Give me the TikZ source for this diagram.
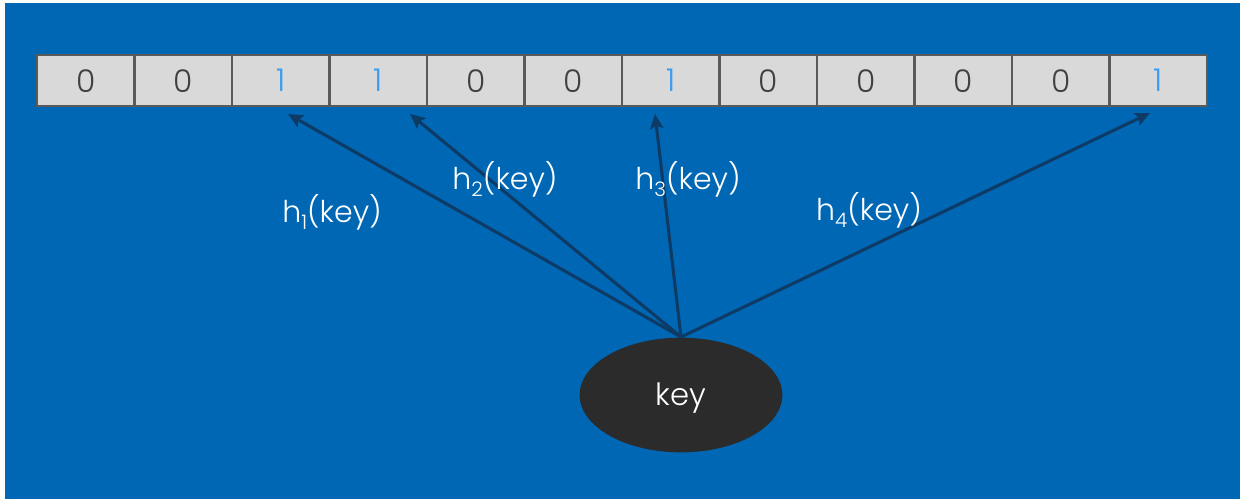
\documentclass[tikz,border=0pt]{standalone}
\usepackage{fontspec}
\setmainfont{Poppins Light}
\usetikzlibrary{arrows.meta,shapes.geometric}
\definecolor{bgblue}{HTML}{0067B4}
\definecolor{cellgrey}{HTML}{D9D9D9}
\definecolor{cellline}{HTML}{5A5A5A}
\definecolor{onecol}{HTML}{3A9CF0}
\definecolor{zerocol}{HTML}{404040}
\definecolor{arrowcol}{HTML}{0E3A66}
\definecolor{keyfill}{HTML}{2B2B2B}
\newcommand{\lowsub}[1]{\raisebox{-0.25em}{\fontsize{15}{16}\selectfont #1}}
\begin{document}
\begin{tikzpicture}[x=0.75pt,y=-0.75pt,
  cellbox/.style={draw=cellline,line width=1.5pt,fill=cellgrey,minimum width=73.1pt,minimum height=38.5pt,inner sep=0pt,outer sep=0pt,anchor=north west,font=\fontsize{23.5}{26}\selectfont},
  hashlabel/.style={text=white,font=\fontsize{22.5}{25}\selectfont,inner sep=0pt},
  hasharrow/.style={draw=arrowcol,line width=2.3pt,-{Stealth[length=11pt,width=10pt,inset=2pt]}}]
\useasboundingbox (0,0) rectangle (1240,499);
\fill[white] (0,0) rectangle (1240,499);
\fill[bgblue] (5,3) rectangle (1240,499);
\foreach \i/\v/\c in {0/0/zerocol,1/0/zerocol,2/1/onecol,3/1/onecol,4/0/zerocol,5/0/zerocol,6/1/onecol,7/0/zerocol,8/0/zerocol,9/0/zerocol,10/0/zerocol,11/1/onecol}{
  \node[cellbox,text=\c] (c\i) at ({37+97.5*\i},55) {\v};
}
\node[ellipse,fill=keyfill,minimum width=152pt,minimum height=86pt,inner sep=0pt,text=white,font=\fontsize{23}{26}\selectfont] (key) at (681,395) {\raisebox{-8pt}[0pt][0pt]{key}};
\coordinate (src) at (681,337);
\coordinate (t1) at (288,114);
\coordinate (t2) at (410,114);
\coordinate (t3) at (655,114);
\coordinate (t4) at (1150,113);
\draw[hasharrow] (src) -- (t1);
\draw[hasharrow] (src) -- (t2);
\draw[hasharrow] (src) -- (t3);
\draw[hasharrow] (src) -- (t4);
\node[hashlabel] (l1) at (332,212) {h\lowsub{1}(key)};
\node[hashlabel] (l2) at (505,179) {h\lowsub{2}(key)};
\node[hashlabel] (l3) at (688,179) {h\lowsub{3}(key)};
\node[hashlabel] (l4) at (869,210) {h\lowsub{4}(key)};
\end{tikzpicture}
\end{document}
